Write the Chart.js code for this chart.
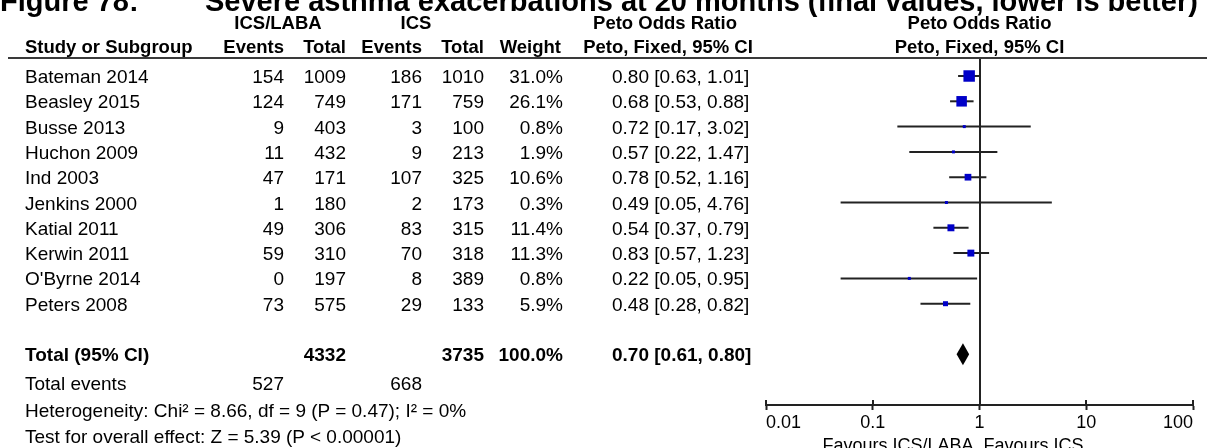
<!DOCTYPE html>
<html>
<head>
<meta charset="utf-8">
<script src="https://cdn.jsdelivr.net/npm/chart.js@4.4.1/dist/chart.umd.min.js"></script>
<style>
  html, body { margin: 0; padding: 0; background: #fff; }
  #wrap { position: relative; width: 1216px; height: 448px; overflow: hidden; background: #fff; }
  #plot { position: absolute; left: 0; top: 0; }
  .t { position: absolute; white-space: nowrap; line-height: 1; color: #000;
       font-family: "Liberation Sans", Arial, sans-serif; font-size: 19px; }
  .b { font-weight: bold; }
  .h { font-weight: bold; font-size: 18.5px; }
  .title { font-weight: bold; font-size: 29px; }
  .rule { position: absolute; height: 2px; background: #3a3a3a; }
</style>
</head>
<body>
<div id="wrap">
  <canvas id="plot" width="1216" height="448"></canvas>
</div>
<script>
// Study-level data
const studies    = ["Bateman 2014", "Beasley 2015", "Busse 2013", "Huchon 2009", "Ind 2003",
                    "Jenkins 2000", "Katial 2011", "Kerwin 2011", "O'Byrne 2014", "Peters 2008"];
const comboEvents = [154, 124, 9, 11, 47, 1, 49, 59, 0, 73];
const comboTotal  = [1009, 749, 403, 432, 171, 180, 306, 310, 197, 575];
const icsEvents   = [186, 171, 3, 9, 107, 2, 83, 70, 8, 29];
const icsTotal    = [1010, 759, 100, 213, 325, 173, 315, 318, 389, 133];
const weights     = [31.0, 26.1, 0.8, 1.9, 10.6, 0.3, 11.4, 11.3, 0.8, 5.9];
const oddsRatio   = [0.80, 0.68, 0.72, 0.57, 0.78, 0.49, 0.54, 0.83, 0.22, 0.48];
const ciLow       = [0.63, 0.53, 0.17, 0.22, 0.52, 0.05, 0.37, 0.57, 0.05, 0.28];
const ciHigh      = [1.01, 0.88, 3.02, 1.47, 1.16, 4.76, 0.79, 1.23, 0.95, 0.82];

// Pooled result
const pooled        = [0.70, 0.61, 0.80];   // estimate, lower, upper
const pooledTotals  = [4332, 3735];
const pooledWeight  = 100.0;
const pooledEvents  = [527, 668];

// Axis ticks
const axisTicks  = [0.01, 0.1, 1, 10, 100];
const tickLabels = ["0.01", "0.1", "1", "10", "100"];

const FONT = '"Liberation Sans", Arial, sans-serif';
const ROW0 = 76, ROWSTEP = 25.3;          // table row geometry (px)
const PLOT_TOP = 59, PLOT_BOTTOM = 405;   // plot panel vertical extent
const totalRow = 11;

const wrap = document.getElementById('wrap');
function put(text, x, yc, align, cls) {
  const el = document.createElement('div');
  el.className = 't' + (cls ? ' ' + cls : '');
  el.textContent = text;
  el.style.left = x + 'px';
  el.style.top = yc + 'px';
  const tx = align === 'right' ? '-100%' : (align === 'center' ? '-50%' : '0');
  el.style.transform = 'translate(' + tx + ', -50%)';
  wrap.appendChild(el);
  return el;
}
function rule(x1, x2, y) {
  const el = document.createElement('div');
  el.className = 'rule';
  el.style.left = x1 + 'px'; el.style.width = (x2 - x1) + 'px'; el.style.top = (y - 1) + 'px';
  wrap.appendChild(el);
}
const rowY = i => ROW0 + ROWSTEP * i;
const ciText = (o, l, h) => o.toFixed(2) + ' [' + l.toFixed(2) + ', ' + h.toFixed(2) + ']';

// Title
put('Figure 78:', 0, 1, 'left', 'title');
put('Severe asthma exacerbations at 20 months (final values, lower is better)', 205, 1, 'left', 'title');

// Column headers
put('ICS/LABA', 278, 23, 'center', 'h');
put('ICS', 416, 23, 'center', 'h');
put('Peto Odds Ratio', 665, 23, 'center', 'h');
put('Study or Subgroup', 25, 47, 'left', 'h');
put('Events', 284, 47, 'right', 'h');
put('Total', 346, 47, 'right', 'h');
put('Events', 422, 47, 'right', 'h');
put('Total', 484, 47, 'right', 'h');
put('Weight', 561, 47, 'right', 'h');
put('Peto, Fixed, 95% CI', 668, 47, 'center', 'h');
rule(8, 1207, 58);

// Study rows
studies.forEach((s, i) => {
  const y = rowY(i);
  put(s, 25, y, 'left');
  put(String(comboEvents[i]), 284, y, 'right');
  put(String(comboTotal[i]), 346, y, 'right');
  put(String(icsEvents[i]), 422, y, 'right');
  put(String(icsTotal[i]), 484, y, 'right');
  put(weights[i].toFixed(1) + '%', 563, y, 'right');
  put(ciText(oddsRatio[i], ciLow[i], ciHigh[i]), 612, y, 'left');
});

// Pooled rows
const yt = rowY(totalRow);
put('Total (95% CI)', 25, yt, 'left', 'b');
put(String(pooledTotals[0]), 346, yt, 'right', 'b');
put(String(pooledTotals[1]), 484, yt, 'right', 'b');
put(pooledWeight.toFixed(1) + '%', 563, yt, 'right', 'b');
put(ciText(pooled[0], pooled[1], pooled[2]), 612, yt, 'left', 'b');
put('Total events', 25, 383, 'left');
put(String(pooledEvents[0]), 284, 383, 'right');
put(String(pooledEvents[1]), 422, 383, 'right');
put('Heterogeneity: Chi\u00B2 = 8.66, df = 9 (P = 0.47); I\u00B2 = 0%', 25, 410, 'left');
put('Test for overall effect: Z = 5.39 (P < 0.00001)', 25, 436, 'left');

// Forest plot
const squareSide = w => Math.max(3, 2.06 * Math.sqrt(w));
const datasets = [{
  label: 'Study estimates',
  data: oddsRatio.map((v, i) => ({ x: v, y: i })),
  showLine: false,
  pointStyle: 'rect',
  pointRadius: weights.map(w => squareSide(w) / Math.SQRT2),
  backgroundColor: '#0000c8',
  borderColor: '#0000c8',
  pointBorderWidth: 0
}];
studies.forEach((s, i) => {
  datasets.push({
    label: s,
    data: [{ x: ciLow[i], y: i }, { x: ciHigh[i], y: i }],
    showLine: true,
    borderColor: '#222',
    borderWidth: 2,
    pointRadius: 0,
    fill: false
  });
});

const forestDecor = {
  id: 'forestDecor',
  beforeDatasetsDraw(chart) {
    const { ctx, chartArea: a } = chart;
    const xs = chart.scales.x;
    const x1 = Math.round(xs.getPixelForValue(1));
    ctx.save();
    ctx.strokeStyle = '#222';
    ctx.lineWidth = 2;
    ctx.beginPath();
    ctx.moveTo(x1, a.top);
    ctx.lineTo(x1, a.bottom);
    // upper halves of the axis tick marks
    axisTicks.forEach(v => {
      const px = Math.round(xs.getPixelForValue(v));
      ctx.moveTo(px, a.bottom - 5);
      ctx.lineTo(px, a.bottom);
    });
    ctx.stroke();
    ctx.restore();
  },
  afterDatasetsDraw(chart) {
    const { ctx } = chart;
    const xs = chart.scales.x, ys = chart.scales.y;
    const yc = ys.getPixelForValue(totalRow);
    const xm = xs.getPixelForValue(pooled[0]);
    const xl = xs.getPixelForValue(pooled[1]);
    const xh = xs.getPixelForValue(pooled[2]);
    ctx.save();
    ctx.fillStyle = '#000';
    ctx.beginPath();
    ctx.moveTo(xl, yc);
    ctx.lineTo(xm, yc - 11);
    ctx.lineTo(xh, yc);
    ctx.lineTo(xm, yc + 11);
    ctx.closePath();
    ctx.fill();
    ctx.restore();
  }
};

const chart = new Chart(document.getElementById('plot'), {
  type: 'scatter',
  data: { datasets },
  options: {
    responsive: false,
    animation: false,
    devicePixelRatio: 1,
    events: [],
    layout: { padding: { left: 766, right: 23, top: PLOT_TOP, bottom: 0 } },
    plugins: { legend: { display: false }, tooltip: { enabled: false }, title: { display: false } },
    scales: {
      x: {
        type: 'logarithmic',
        min: 0.01,
        max: 100,
        afterBuildTicks: s => { s.ticks = axisTicks.map(v => ({ value: v })); },
        afterFit: s => { s.height = 448 - PLOT_BOTTOM; },
        border: { display: true, color: '#222', width: 2 },
        grid: { display: true, drawOnChartArea: false, drawTicks: true, tickLength: 5, tickColor: '#222', tickWidth: 2 },
        ticks: {
          autoSkip: false,
          maxRotation: 0,
          align: 'inner',
          padding: 2,
          color: '#000',
          font: { family: FONT, size: 18 },
          callback: (v, i) => tickLabels[i]
        }
      },
      y: {
        type: 'linear',
        display: false,
        reverse: true,
        min: (PLOT_TOP - ROW0) / ROWSTEP,
        max: (PLOT_BOTTOM - ROW0) / ROWSTEP
      }
    }
  },
  plugins: [forestDecor]
});

// Plot headers and direction labels, placed from the axis scale
const xs = chart.scales.x;
const xMid = (chart.chartArea.left + chart.chartArea.right) / 2;
put('Peto Odds Ratio', xMid, 23, 'center', 'h');
put('Peto, Fixed, 95% CI', xMid, 47, 'center', 'h');
const xOne = xs.getPixelForValue(1);
const fl = put('Favours ICS/LABA', xOne - 6, 445, 'right');
const fr = put('Favours ICS', xOne + 4, 445, 'left');
fl.style.fontSize = '18px';
fr.style.fontSize = '18px';
</script>
</body>
</html>
